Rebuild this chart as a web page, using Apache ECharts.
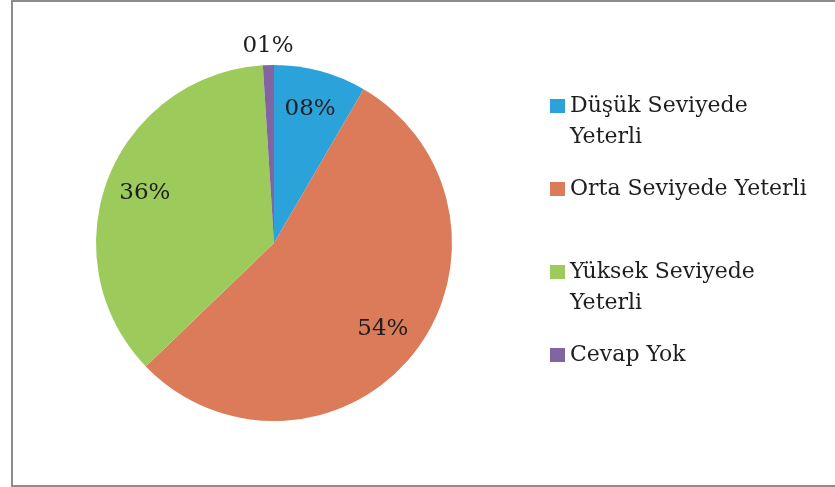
<!DOCTYPE html>
<html>
<head>
<meta charset="utf-8">
<script src="https://cdn.jsdelivr.net/npm/echarts@6/dist/echarts.min.js"></script>
<style>html,body{margin:0;padding:0;background:#fff;}#c{width:835px;height:487px;}</style>
</head>
<body>
<div id="c"></div>
<script>
const categories = ['Düşük Seviyede Yeterli', 'Orta Seviyede Yeterli', 'Yüksek Seviyede Yeterli', 'Cevap Yok'];
const legendLabels = ['Düşük Seviyede\nYeterli', 'Orta Seviyede Yeterli', 'Yüksek Seviyede\nYeterli', 'Cevap Yok'];
const values = [8.4, 54.4, 36.2, 1.0];
const colors = ['#2ba3da', '#db7b59', '#9ccb5c', '#8165a2'];

const chart = echarts.init(document.getElementById('c'));
const FONT = 'DejaVu Serif';
const pieData = categories.map((n, i) => ({ name: n, value: values[i], itemStyle: { color: colors[i] } }));
const labelMap = {};
categories.forEach((n, i) => {
  // multi-line entries: leading empty line keeps the icon aligned with the first text line
  labelMap[n] = legendLabels[i].indexOf('\n') >= 0 ? '\n' + legendLabels[i] : legendLabels[i];
});

const legendTops = [59.5, 173.5, 225.5, 339.5];
const legends = categories.map((n, i) => ({
  data: [n],
  left: 550,
  top: legendTops[i],
  orient: 'vertical',
  padding: 0,
  itemWidth: 15,
  itemHeight: 14,
  icon: 'rect',
  selectedMode: false,
  formatter: name => labelMap[name],
  textStyle: { fontFamily: FONT, fontSize: 22, color: '#1e1e1e', lineHeight: 31 }
}));

function fmt(p) {
  const v = Math.round(p.value);
  return (v < 10 ? '0' + v : '' + v) + '%';
}

chart.setOption({
  backgroundColor: '#fff',
  animation: false,
  legend: legends,
  graphic: [{
    type: 'rect', shape: { x: 12, y: 1, width: 840, height: 485 },
    style: { fill: 'none', stroke: '#8c8c8c', lineWidth: 2 }, silent: true
  }],
  series: [{
    type: 'pie',
    center: [274, 243],
    radius: [0, 178],
    startAngle: 90,
    clockwise: true,
    silent: true,
    label: { show: false },
    labelLine: { show: false },
    itemStyle: { borderWidth: 0 },
    data: pieData
  }, {
    type: 'pie',
    center: [274, 243],
    radius: [93, 178],
    startAngle: 90,
    clockwise: true,
    silent: true,
    itemStyle: { color: 'rgba(0,0,0,0)', borderWidth: 0 },
    label: {
      show: true, position: 'inside', formatter: fmt,
      fontFamily: FONT, fontSize: 23, color: '#1e1e1e'
    },
    labelLine: { show: false, length: 15, length2: 0 },
    labelLayout: p => p.dataIndex === 3 ? { align: 'center', dy: -4 } : {},
    data: categories.map((n, i) => ({
      name: n, value: values[i],
      label: i === 3 ? { position: 'outside', distanceToLabelLine: 0 } : undefined
    }))
  }]
});
</script>
</body>
</html>
